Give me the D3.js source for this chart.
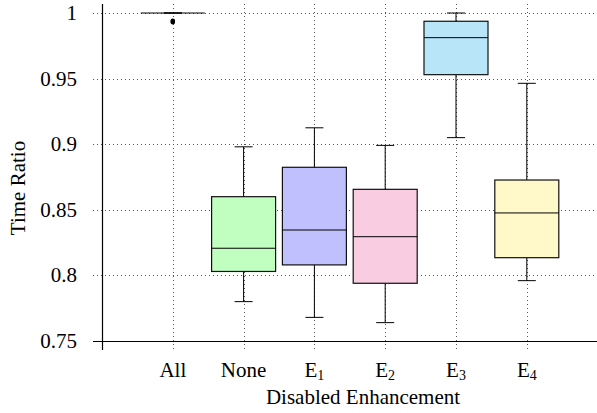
<!DOCTYPE html>
<html>
  <head>
    <meta charset="utf-8">
    <style>
      body { margin: 0; background: #fff; }
      svg text { font-family: "Liberation Serif", "DejaVu Serif", serif; fill: #000; }
    </style>
    <script src="https://cdnjs.cloudflare.com/ajax/libs/d3/7.8.5/d3.min.js"></script>
  </head>
  <body>
    <svg id="chart" width="597" height="413"></svg>
    <script>
      // categories: name + optional subscript
      var cats = ['All', 'None', 'E1', 'E2', 'E3', 'E4'];
      var catSub = ['', '', '1', '2', '3', '4'];
      var lowW   = [1.0,   0.780, 0.768, 0.764, 0.905, 0.796];
      var q1     = [1.0,   0.803, 0.808, 0.794, 0.953, 0.8135];
      var median = [1.0,   0.8207, 0.8346, 0.8295, 0.9812, 0.8476];
      var q3     = [1.0,   0.860, 0.8824, 0.8656, 0.9937, 0.8727];
      var highW  = [1.0,   0.898, 0.9125, 0.8991, 1.0, 0.9464];
      var outliers = [[0.9935, 0.9942, 0.9929], [], [], [], [], []];
      var fills = ['none', '#c0ffc0', '#c0c0ff', '#f9cce1', '#b9e5f9', '#fff9c9'];
      var yTicks = [0.75, 0.8, 0.85, 0.9, 0.95, 1];

      var svg = d3.select('#chart');
      var x = d3.scaleLinear().domain([0, 7]).range([102, 597.6]);
      var y = d3.scaleLinear().domain([0.75, 1]).range([341, 13]);
      var boxW = 64;

      // grid
      svg.append('g').selectAll('line').data(yTicks.slice(1)).join('line')
        .attr('x1', 93).attr('x2', 597)
        .attr('y1', function(d) { return Math.round(y(d)) + 0.5; })
        .attr('y2', function(d) { return Math.round(y(d)) + 0.5; })
        .attr('stroke', '#555').attr('stroke-width', 1).attr('stroke-dasharray', '1,3');
      svg.append('g').selectAll('line').data(cats).join('line')
        .attr('x1', function(d, i) { return Math.round(x(i + 1)) + 0.5; })
        .attr('x2', function(d, i) { return Math.round(x(i + 1)) + 0.5; })
        .attr('y1', 4).attr('y2', 350)
        .attr('stroke', '#555').attr('stroke-width', 1).attr('stroke-dasharray', '1,3');

      // boxes
      var g = svg.append('g').selectAll('g').data(cats).join('g');
      g.append('line')
        .attr('x1', function(d, i) { return x(i + 1); }).attr('x2', function(d, i) { return x(i + 1); })
        .attr('y1', function(d, i) { return y(highW[i]); }).attr('y2', function(d, i) { return y(lowW[i]); })
        .attr('stroke', '#000').attr('stroke-width', 1);
      g.each(function(d, i) {
        var s = d3.select(this), cx = x(i + 1);
        [lowW[i], highW[i]].forEach(function(v) {
          s.append('line').attr('x1', cx - 9).attr('x2', cx + 9)
            .attr('y1', y(v)).attr('y2', y(v)).attr('stroke', '#000').attr('stroke-width', 1);
        });
        s.append('rect').attr('x', cx - boxW / 2).attr('width', boxW)
          .attr('y', y(q3[i])).attr('height', Math.max(0, y(q1[i]) - y(q3[i])))
          .attr('fill', fills[i]).attr('stroke', '#111').attr('stroke-width', 1.2);
        s.append('line').attr('x1', cx - boxW / 2).attr('x2', cx + boxW / 2)
          .attr('y1', y(median[i])).attr('y2', y(median[i]))
          .attr('stroke', '#000').attr('stroke-width', 1);
        outliers[i].forEach(function(v) {
          s.append('circle').attr('cx', cx).attr('cy', y(v)).attr('r', 2.2).attr('fill', '#000');
        });
      });

      // axes
      svg.append('line').attr('x1', 102.5).attr('x2', 102.5).attr('y1', 4).attr('y2', 350)
        .attr('stroke', '#000').attr('stroke-width', 1.2);
      svg.append('line').attr('x1', 93).attr('x2', 597).attr('y1', 341.5).attr('y2', 341.5)
        .attr('stroke', '#000').attr('stroke-width', 1.2);

      // y tick labels
      svg.append('g').selectAll('text').data(yTicks).join('text')
        .attr('x', 77).attr('y', function(d) { return y(d) + 7; })
        .attr('text-anchor', 'end').style('font-size', '21px')
        .text(function(d) { return d3.format('')(d); });

      // x tick labels
      var xl = svg.append('g').selectAll('text').data(cats).join('text')
        .attr('x', function(d, i) { return x(i + 1); }).attr('y', 377)
        .attr('text-anchor', 'middle').style('font-size', '21px');
      xl.append('tspan').text(function(d) { return d.charAt(0) === 'E' ? 'E' : d; });
      xl.append('tspan').attr('dy', 3).style('font-size', '14px')
        .text(function(d, i) { return catSub[i]; });

      svg.append('text').attr('x', 363).attr('y', 404).attr('text-anchor', 'middle')
        .style('font-size', '21px').text('Disabled Enhancement');
      svg.append('text').attr('transform', 'translate(25,188) rotate(-90)')
        .attr('text-anchor', 'middle').style('font-size', '21px').text('Time Ratio');
    </script>
  </body>
</html>
